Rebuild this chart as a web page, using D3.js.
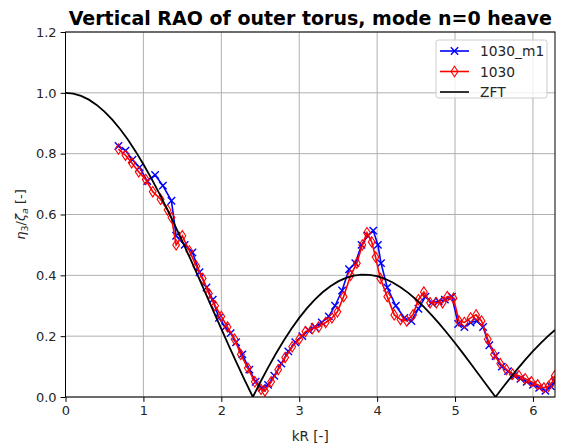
<!DOCTYPE html>
<html>
<head>
<meta charset="utf-8">
<script src="https://cdn.jsdelivr.net/npm/d3@7"></script>
<style>
  html, body { margin: 0; padding: 0; background: #fff; }
  svg { display: block; font-family: "DejaVu Sans", sans-serif; }
</style>
</head>
<body>
<svg id="chart" width="561" height="445"></svg>
<script>
// Measured heave RAO, variant "1030_m1": kR and amplitude ratio
const m1KR = [0.68, 0.77, 0.86, 0.95, 1.05, 1.15, 1.25, 1.36, 1.42, 1.53, 1.63, 1.72, 1.81, 1.89, 1.97,
  2.05, 2.12, 2.19, 2.27, 2.36, 2.44, 2.52, 2.60, 2.68, 2.77, 2.86, 2.95, 3.04, 3.12, 3.20, 3.29,
  3.38, 3.46, 3.55, 3.64, 3.72, 3.80, 3.88, 3.95, 4.01, 4.05, 4.13, 4.24, 4.35, 4.44, 4.53, 4.62,
  4.70, 4.79, 4.87, 4.96, 5.04, 5.12, 5.20, 5.28, 5.36, 5.44, 5.52, 5.60, 5.68, 5.76, 5.84, 5.92,
  6.00, 6.08, 6.16, 6.23, 6.28];
const m1Val = [0.825, 0.81, 0.78, 0.755, 0.71, 0.73, 0.695, 0.645, 0.53, 0.50, 0.475, 0.41, 0.36, 0.32, 0.26,
  0.23, 0.21, 0.18, 0.14, 0.09, 0.05, 0.03, 0.04, 0.07, 0.11, 0.15, 0.18, 0.20, 0.22, 0.23, 0.245,
  0.265, 0.30, 0.35, 0.42, 0.44, 0.50, 0.53, 0.547, 0.50, 0.44, 0.36, 0.30, 0.26, 0.25, 0.29, 0.33,
  0.31, 0.315, 0.32, 0.33, 0.24, 0.23, 0.245, 0.25, 0.23, 0.17, 0.135, 0.10, 0.085, 0.07, 0.06, 0.05,
  0.04, 0.03, 0.02, 0.035, 0.05];

// Measured heave RAO, variant "1030"
const baseKR = [0.68, 0.77, 0.85, 0.94, 1.03, 1.12, 1.22, 1.31, 1.36, 1.42, 1.50, 1.59, 1.68, 1.76, 1.84,
  1.92, 2.00, 2.08, 2.17, 2.25, 2.34, 2.43, 2.51, 2.56, 2.64, 2.73, 2.82, 2.91, 3.00, 3.08, 3.17,
  3.25, 3.34, 3.42, 3.49, 3.57, 3.66, 3.74, 3.81, 3.87, 3.93, 3.98, 4.04, 4.13, 4.22, 4.30, 4.38,
  4.46, 4.53, 4.60, 4.68, 4.76, 4.84, 4.90, 4.98, 5.05, 5.12, 5.20, 5.27, 5.34, 5.42, 5.50, 5.58,
  5.66, 5.74, 5.82, 5.90, 5.98, 6.06, 6.14, 6.20, 6.25, 6.28];
const baseVal = [0.815, 0.795, 0.77, 0.74, 0.715, 0.675, 0.65, 0.615, 0.59, 0.50, 0.53, 0.48, 0.43, 0.39, 0.34,
  0.30, 0.265, 0.23, 0.19, 0.14, 0.095, 0.05, 0.025, 0.02, 0.05, 0.09, 0.13, 0.165, 0.19, 0.215, 0.225,
  0.23, 0.245, 0.26, 0.28, 0.33, 0.40, 0.44, 0.50, 0.54, 0.51, 0.46, 0.39, 0.33, 0.27, 0.255, 0.25,
  0.27, 0.32, 0.345, 0.31, 0.31, 0.31, 0.33, 0.325, 0.25, 0.245, 0.26, 0.27, 0.25, 0.19, 0.14, 0.11,
  0.09, 0.075, 0.07, 0.06, 0.05, 0.04, 0.03, 0.035, 0.05, 0.07];

// Zero-frequency theory curve (magnitude)
const zftKR = [0.0, 0.1, 0.2, 0.3, 0.4, 0.5, 0.6, 0.7, 0.8, 0.9, 1.0, 1.1, 1.2, 1.3, 1.4, 1.5, 1.6, 1.7,
  1.8, 1.9, 2.0, 2.1, 2.2, 2.3, 2.405, 2.5, 2.6, 2.7, 2.8, 2.9, 3.0, 3.1, 3.2, 3.3, 3.4, 3.5, 3.6,
  3.7, 3.8, 3.9, 4.0, 4.1, 4.2, 4.3, 4.4, 4.5, 4.6, 4.7, 4.8, 4.9, 5.0, 5.1, 5.2, 5.3, 5.4, 5.52,
  5.6, 5.7, 5.8, 5.9, 6.0, 6.1, 6.2, 6.2832];
const zftVal = [1.0, 0.9975, 0.99, 0.9776, 0.9604, 0.9385, 0.912, 0.8812, 0.8463, 0.8075, 0.7652, 0.7196,
  0.6711, 0.6201, 0.5669, 0.5118, 0.4554, 0.398, 0.34, 0.2818, 0.2239, 0.1666, 0.1104, 0.0555, 0.0,
  0.0484, 0.0968, 0.1424, 0.185, 0.2243, 0.2601, 0.2921, 0.3202, 0.3443, 0.3643, 0.3801, 0.3918,
  0.3992, 0.4026, 0.4018, 0.3971, 0.3887, 0.3766, 0.361, 0.3423, 0.3205, 0.2961, 0.2693, 0.2404,
  0.2097, 0.1776, 0.1443, 0.1103, 0.0758, 0.0412, 0.0, 0.027, 0.0599, 0.0917, 0.122, 0.1506, 0.1773,
  0.2017, 0.2203];

const xTicks = [0, 1, 2, 3, 4, 5, 6];
const yTicks = [0.0, 0.2, 0.4, 0.6, 0.8, 1.0, 1.2];
const seriesNames = ["1030_m1", "1030", "ZFT"];
const seriesColors = ["#0000ff", "#ff0000", "#000000"];

const svg = d3.select("#chart");
const plot = { left: 65.5, right: 555, top: 32, bottom: 397 };

const x = d3.scaleLinear().domain([0, 2 * Math.PI]).range([plot.left, plot.right]);
const y = d3.scaleLinear().domain([0, 1.2]).range([plot.bottom, plot.top]);

// grid
const grid = svg.append("g");
grid.selectAll("line.gx").data(xTicks).join("line")
  .attr("x1", d => x(d)).attr("x2", d => x(d))
  .attr("y1", plot.top).attr("y2", plot.bottom)
  .attr("stroke", "#b0b0b0").attr("stroke-width", 1);
grid.selectAll("line.gy").data(yTicks).join("line")
  .attr("x1", plot.left).attr("x2", plot.right)
  .attr("y1", d => y(d)).attr("y2", d => y(d))
  .attr("stroke", "#b0b0b0").attr("stroke-width", 1);

const zip = (a, b) => a.map((k, i) => [k, b[i]]);
const line = d3.line().x(d => x(d[0])).y(d => y(d[1]));

svg.append("clipPath").attr("id", "clip").append("rect")
  .attr("x", plot.left).attr("y", plot.top)
  .attr("width", plot.right - plot.left).attr("height", plot.bottom - plot.top);

const marks = svg.append("g").attr("clip-path", "url(#clip)");

function xMarker(g, px, py, s, color) {
  g.append("path")
    .attr("d", `M${px - s},${py - s}L${px + s},${py + s}M${px - s},${py + s}L${px + s},${py - s}`)
    .attr("stroke", color).attr("stroke-width", 1.4).attr("fill", "none");
}
function diamondMarker(g, px, py, w, h, color) {
  g.append("path")
    .attr("d", `M${px},${py - h}L${px + w},${py}L${px},${py + h}L${px - w},${py}Z`)
    .attr("stroke", color).attr("stroke-width", 1.1).attr("fill", "none");
}

// 1030_m1
const m1 = zip(m1KR, m1Val);
marks.append("path").datum(m1).attr("d", line)
  .attr("fill", "none").attr("stroke", seriesColors[0]).attr("stroke-width", 1.6);
const m1Marks = marks.append("g");
m1.forEach(d => xMarker(m1Marks, x(d[0]), y(d[1]), 3.7, seriesColors[0]));

// 1030
const base = zip(baseKR, baseVal);
marks.append("path").datum(base).attr("d", line)
  .attr("fill", "none").attr("stroke", seriesColors[1]).attr("stroke-width", 1.6);
const baseMarks = marks.append("g");
base.forEach(d => diamondMarker(baseMarks, x(d[0]), y(d[1]), 3.4, 5.2, seriesColors[1]));

// ZFT
marks.append("path").datum(zip(zftKR, zftVal)).attr("d", line)
  .attr("fill", "none").attr("stroke", seriesColors[2]).attr("stroke-width", 1.8);

// axes
const xAxis = d3.axisBottom(x).tickValues(xTicks).tickFormat(d3.format("d")).tickSize(4.9).tickPadding(4);
const yAxis = d3.axisLeft(y).tickValues(yTicks).tickFormat(d3.format(".1f")).tickSize(4.9).tickPadding(4);
const gx = svg.append("g").attr("transform", `translate(0,${plot.bottom})`).call(xAxis);
const gy = svg.append("g").attr("transform", `translate(${plot.left},0)`).call(yAxis);
[gx, gy].forEach(g => {
  g.select(".domain").remove();
  g.selectAll(".tick line").attr("stroke", "#000").attr("stroke-width", 1);
  g.selectAll(".tick text").attr("fill", "#262626").attr("font-size", 13)
    .attr("font-family", "DejaVu Sans, sans-serif");
});

// frame
svg.append("rect").attr("x", plot.left).attr("y", plot.top)
  .attr("width", plot.right - plot.left).attr("height", plot.bottom - plot.top)
  .attr("fill", "none").attr("stroke", "#000").attr("stroke-width", 1);

// title
svg.append("text").attr("x", (plot.left + plot.right) / 2).attr("y", 25)
  .attr("text-anchor", "middle").attr("font-weight", "bold").attr("font-size", 19)
  .attr("fill", "#000").text("Vertical RAO of outer torus, mode n=0 heave");

// axis labels
svg.append("text").attr("x", (plot.left + plot.right) / 2).attr("y", 441)
  .attr("text-anchor", "middle").attr("font-size", 13.5).attr("fill", "#262626").text("kR [-]");

const yl = svg.append("text")
  .attr("transform", `translate(25,${(plot.top + plot.bottom) / 2}) rotate(-90)`)
  .attr("text-anchor", "middle").attr("font-size", 13).attr("fill", "#262626");
yl.append("tspan").attr("font-style", "italic").text("η");
yl.append("tspan").attr("font-size", 9.5).attr("dy", 3).text("3");
yl.append("tspan").attr("dy", -3).text("/");
yl.append("tspan").attr("font-style", "italic").text("ζ");
yl.append("tspan").attr("font-size", 9.5).attr("font-style", "italic").attr("dy", 3).text("a");
yl.append("tspan").attr("dy", -3).text(" [-]");

// legend
const lg = svg.append("g");
lg.append("rect").attr("x", 436).attr("y", 40).attr("width", 111).attr("height", 58)
  .attr("rx", 2.5).attr("fill", "#fff").attr("fill-opacity", 0.8)
  .attr("stroke", "#cccccc").attr("stroke-width", 1);
const rowsY = [51, 71.5, 92];
seriesNames.forEach((name, i) => {
  const ly = rowsY[i];
  lg.append("line").attr("x1", 440).attr("x2", 469).attr("y1", ly).attr("y2", ly)
    .attr("stroke", seriesColors[i]).attr("stroke-width", 1.6);
  if (i === 0) xMarker(lg, 454.5, ly, 3.7, seriesColors[0]);
  if (i === 1) diamondMarker(lg, 454.5, ly, 3.4, 5.2, seriesColors[1]);
  lg.append("text").attr("x", 480).attr("y", ly + 5).attr("font-size", 13.8)
    .attr("fill", "#262626").text(name);
});
</script>
</body>
</html>
